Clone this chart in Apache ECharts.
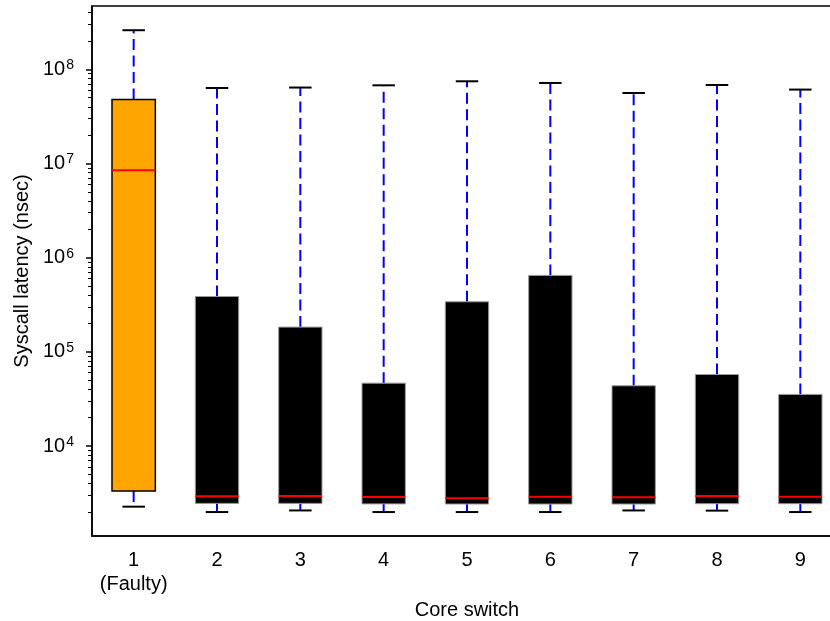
<!DOCTYPE html>
<html>
<head>
<meta charset="utf-8">
<script src="https://cdn.jsdelivr.net/npm/echarts@6/dist/echarts.min.js"></script>
<style>
html,body{margin:0;padding:0;background:#fff;}
#c{width:830px;height:621px;}
</style>
</head>
<body>
<div id="c"></div>
<script>
// ---- data ----
var categories = ['1\n(Faulty)', '2', '3', '4', '5', '6', '7', '8', '9'];
var lowerWhisker = [2270, 1990, 2070, 1990, 1990, 1990, 2070, 2060, 1990];
var q1 = [3330, 2460, 2460, 2430, 2420, 2420, 2420, 2440, 2440];
var median = [8450000, 2920, 2950, 2870, 2790, 2900, 2850, 2950, 2900];
var q3 = [47700000, 387000, 183000, 46500, 340000, 648000, 43600, 57500, 35300];
var upperWhisker = [260000000, 63300000, 64000000, 67600000, 74600000, 71600000, 56000000, 68100000, 60900000];
var faultyIndex = 0;

// axis ticks
var yMin = 1108, yMax = 470000000;
var majorTicks = [1e4, 1e5, 1e6, 1e7, 1e8];
var minorMultipliers = [2, 3, 4, 5, 6, 7, 8, 9];
var decades = [1e3, 1e4, 1e5, 1e6, 1e7, 1e8];
var minorTicks = [];
decades.forEach(function (d) {
  minorMultipliers.forEach(function (m) {
    var v = d * m;
    if (v >= yMin && v <= yMax) minorTicks.push(v);
  });
});

var boxData = categories.map(function (c, i) {
  return [i, lowerWhisker[i], q1[i], median[i], q3[i], upperWhisker[i]];
});

var chart = echarts.init(document.getElementById('c'), null, {renderer: 'canvas'});

function renderBox(params, api) {
  var idx = api.value(0);
  var lo = api.coord([idx, api.value(1)]);
  var b1 = api.coord([idx, api.value(2)]);
  var md = api.coord([idx, api.value(3)]);
  var b3 = api.coord([idx, api.value(4)]);
  var hi = api.coord([idx, api.value(5)]);
  var band = api.size([1, 0])[0];
  var bw = band * 0.52;
  var cw = band * 0.27;
  var x = lo[0];
  var faulty = idx === faultyIndex;
  var whiskerStyle = {stroke: '#0000ff', lineWidth: 2, lineDash: [11, 5.5]};
  var capStyle = {stroke: '#000', lineWidth: 2};
  return {
    type: 'group',
    children: [
      {type: 'line', shape: {x1: x, y1: b3[1], x2: x, y2: hi[1]}, style: whiskerStyle},
      {type: 'line', shape: {x1: x, y1: b1[1], x2: x, y2: lo[1]}, style: whiskerStyle},
      {type: 'line', shape: {x1: x - cw / 2, y1: hi[1], x2: x + cw / 2, y2: hi[1]}, style: capStyle},
      {type: 'line', shape: {x1: x - cw / 2, y1: lo[1], x2: x + cw / 2, y2: lo[1]}, style: capStyle},
      {type: 'rect', shape: {x: x - bw / 2, y: b3[1], width: bw, height: b1[1] - b3[1]},
        style: faulty ? {fill: '#FFA500', stroke: '#000', lineWidth: 1.5}
                      : {fill: '#000', stroke: '#999', lineWidth: 1}},
      {type: 'line', shape: {x1: x - bw / 2, y1: md[1], x2: x + bw / 2, y2: md[1]},
        style: {stroke: '#ff0000', lineWidth: 2}}
    ]
  };
}

var FONT = 'Liberation Sans, Arial, sans-serif';
var option = {
  animation: false,
  backgroundColor: '#fff',
  textStyle: {fontFamily: FONT},
  grid: {left: 92, top: 6, width: 750, height: 530, outerBoundsMode: 'none', containLabel: false,
    show: true, borderColor: '#000', borderWidth: 1.5, backgroundColor: 'transparent'},
  xAxis: {
    type: 'category',
    data: categories,
    name: 'Core switch',
    nameLocation: 'middle',
    nameGap: 63,
    nameTextStyle: {fontSize: 20, color: '#000', fontFamily: FONT},
    axisLine: {lineStyle: {color: '#000', width: 1.5}},
    axisTick: {alignWithLabel: true, interval: 0, length: 6, lineStyle: {color: '#000', width: 1.5}},
    axisLabel: {interval: 0, fontSize: 20, color: '#000', margin: 12, lineHeight: 24, fontFamily: FONT},
    splitLine: {show: false}
  },
  yAxis: [{
    type: 'log',
    logBase: 10,
    min: yMin,
    max: yMax,
    position: 'left',
    name: 'Syscall latency (nsec)',
    nameLocation: 'middle',
    nameGap: 58,
    nameTextStyle: {fontSize: 20, color: '#000', fontFamily: FONT},
    axisLine: {show: true, lineStyle: {color: '#000', width: 1.5}},
    axisTick: {show: true, length: 6, customValues: majorTicks, lineStyle: {color: '#000', width: 1.5}},
    axisLabel: {
      customValues: majorTicks,
      margin: 18,
      formatter: function (v) {
        var e = Math.round(Math.log(v) / Math.LN10);
        return '{b|10}{s|' + e + '}';
      },
      rich: {
        b: {fontSize: 20, color: '#000', lineHeight: 22, fontFamily: FONT},
        s: {fontSize: 14, color: '#000', lineHeight: 14, verticalAlign: 'top', padding: [0, 0, 0, 1], fontFamily: FONT}
      }
    },
    splitLine: {show: false}
  }, {
    type: 'log',
    logBase: 10,
    min: yMin,
    max: yMax,
    position: 'right',
    offset: -750,
    axisLine: {show: false},
    axisTick: {show: true, inside: true, length: 4, customValues: minorTicks, lineStyle: {color: '#000', width: 1}},
    axisLabel: {show: false},
    splitLine: {show: false}
  }],
  series: [{
    type: 'custom',
    renderItem: renderBox,
    encode: {x: 0, y: [1, 2, 3, 4, 5]},
    data: boxData,
    clip: false
  }]
};
chart.setOption(option);
</script>
</body>
</html>
